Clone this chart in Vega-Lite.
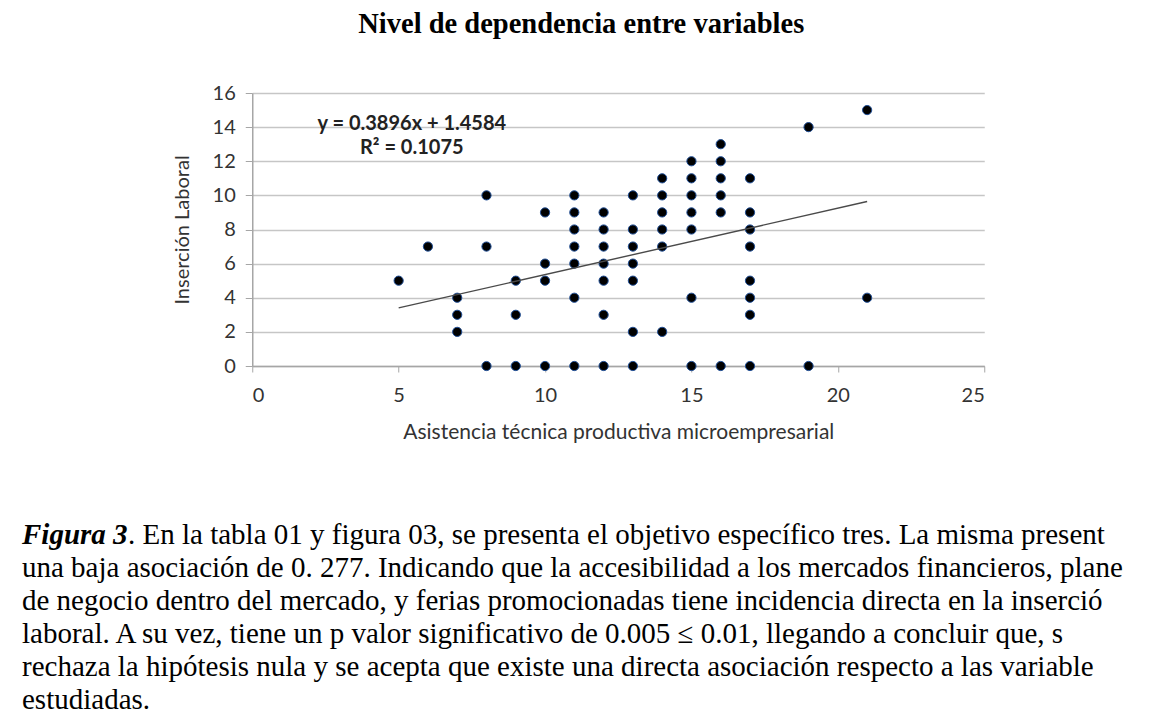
{
  "$schema": "https://vega.github.io/schema/vega-lite/v6.json",
  "background": "white",
  "padding": {"left": 22, "top": 9, "right": 0, "bottom": 0},
  "center": true,
  "spacing": 76,
  "config": {"view": {"stroke": null}},
  "vconcat": [
    {
      "width": 732,
      "height": 273,
      "title": {"text": "Nivel de dependencia entre variables", "font": "Liberation Serif", "fontSize": 28.5, "fontWeight": "bold", "color": "#000000", "anchor": "middle", "frame": "group", "offset": 45, "dx": -37},
      "encoding": {
        "x": {"field": "x", "type": "quantitative", "scale": {"domain": [0, 25], "nice": false},
          "axis": {"title": "Asistencia técnica productiva microempresarial", "values": [0, 5, 10, 15, 20, 25], "grid": false,
            "tickSize": 6, "tickColor": "#a6a6a6", "domainColor": "#a6a6a6", "domainWidth": 1.5, "labelPadding": 13, "titlePadding": 16,
            "labelFont": "Lato", "labelFontSize": 20, "labelColor": "#333333", "titleFont": "Lato", "titleFontSize": 21, "titleFontWeight": "normal", "titleColor": "#333333"}},
        "y": {"field": "y", "type": "quantitative", "scale": {"domain": [0, 16], "nice": false},
          "axis": {"title": "Inserción Laboral", "values": [0, 2, 4, 6, 8, 10, 12, 14, 16], "labelOverlap": false, "grid": true, "gridColor": "#c6c6c6", "gridWidth": 1.5,
            "tickSize": 7, "tickColor": "#a6a6a6", "domainColor": "#a6a6a6", "domainWidth": 1.5, "labelPadding": 10, "titlePadding": 20,
            "labelFont": "Lato", "labelFontSize": 20, "labelColor": "#333333", "titleFont": "Lato", "titleFontSize": 20, "titleFontWeight": "normal", "titleColor": "#333333"}}
      },
      "layer": [
        {
          "data": {"values": [
            {"x": 5, "y": 5}, {"x": 6, "y": 7},
            {"x": 7, "y": 4}, {"x": 7, "y": 3}, {"x": 7, "y": 2},
            {"x": 8, "y": 10}, {"x": 8, "y": 7}, {"x": 8, "y": 0},
            {"x": 9, "y": 5}, {"x": 9, "y": 3}, {"x": 9, "y": 0},
            {"x": 10, "y": 9}, {"x": 10, "y": 6}, {"x": 10, "y": 5}, {"x": 10, "y": 0},
            {"x": 11, "y": 10}, {"x": 11, "y": 9}, {"x": 11, "y": 8}, {"x": 11, "y": 7}, {"x": 11, "y": 6}, {"x": 11, "y": 4}, {"x": 11, "y": 0},
            {"x": 12, "y": 9}, {"x": 12, "y": 8}, {"x": 12, "y": 7}, {"x": 12, "y": 6}, {"x": 12, "y": 5}, {"x": 12, "y": 3}, {"x": 12, "y": 0},
            {"x": 13, "y": 10}, {"x": 13, "y": 8}, {"x": 13, "y": 7}, {"x": 13, "y": 6}, {"x": 13, "y": 5}, {"x": 13, "y": 2}, {"x": 13, "y": 0},
            {"x": 14, "y": 11}, {"x": 14, "y": 10}, {"x": 14, "y": 9}, {"x": 14, "y": 8}, {"x": 14, "y": 7}, {"x": 14, "y": 2},
            {"x": 15, "y": 12}, {"x": 15, "y": 11}, {"x": 15, "y": 10}, {"x": 15, "y": 9}, {"x": 15, "y": 8}, {"x": 15, "y": 4}, {"x": 15, "y": 0},
            {"x": 16, "y": 13}, {"x": 16, "y": 12}, {"x": 16, "y": 11}, {"x": 16, "y": 10}, {"x": 16, "y": 9}, {"x": 16, "y": 0},
            {"x": 17, "y": 11}, {"x": 17, "y": 9}, {"x": 17, "y": 8}, {"x": 17, "y": 7}, {"x": 17, "y": 5}, {"x": 17, "y": 4}, {"x": 17, "y": 3}, {"x": 17, "y": 0},
            {"x": 19, "y": 14}, {"x": 19, "y": 0},
            {"x": 21, "y": 15}, {"x": 21, "y": 4}
          ]},
          "mark": {"type": "point", "filled": true, "shape": "circle", "size": 85, "fill": "#000000", "stroke": "#1f4e96", "strokeWidth": 1, "opacity": 1}
        },
        {
          "data": {"values": [{"x": 5, "y": 3.4064}, {"x": 21, "y": 9.64}]},
          "mark": {"type": "line", "color": "#4a4a4a", "strokeWidth": 1.4}
        },
        {
          "data": {"values": [{"x": 5.45, "y": 14.2, "label": "y = 0.3896x + 1.4584"}, {"x": 5.45, "y": 12.8, "label": "R² = 0.1075"}]},
          "mark": {"type": "text", "font": "Lato", "fontSize": 20, "fontWeight": "bold", "color": "#222222", "align": "center", "baseline": "middle"},
          "encoding": {"text": {"field": "label"}}
        }
      ]
    },
    {
      "width": 1193,
      "height": {"step": 33},
      "data": {"values": [
        {"line": 1, "part": "label", "text": "Figura 3"},
        {"line": 1, "part": "rest", "text": ". En la tabla 01 y figura 03, se presenta el objetivo específico tres. La misma present"},
        {"line": 2, "part": "body", "text": "una baja asociación de 0. 277. Indicando que la accesibilidad a los mercados financieros, plane"},
        {"line": 3, "part": "body", "text": "de negocio dentro del mercado, y ferias promocionadas tiene incidencia directa en la inserció"},
        {"line": 4, "part": "body", "text": "laboral. A su vez, tiene un p valor significativo de 0.005 ≤ 0.01, llegando a concluir que, s"},
        {"line": 5, "part": "body", "text": "rechaza la hipótesis nula y se acepta que existe una directa asociación respecto a las variable"},
        {"line": 6, "part": "body", "text": "estudiadas."}
      ]},
      "encoding": {
        "y": {"field": "line", "type": "ordinal", "axis": null},
        "x": {"datum": 0, "type": "quantitative", "scale": {"domain": [0, 1]}, "axis": null},
        "text": {"field": "text"}
      },
      "layer": [
        {"transform": [{"filter": "datum.part == 'label'"}],
         "mark": {"type": "text", "font": "Liberation Serif", "fontSize": 29, "fontWeight": "bold", "fontStyle": "italic", "color": "#000000", "align": "left", "baseline": "middle"}},
        {"transform": [{"filter": "datum.part == 'rest'"}],
         "mark": {"type": "text", "font": "Liberation Serif", "fontSize": 29, "color": "#000000", "align": "left", "baseline": "middle", "dx": 106, "limit": 1087, "ellipsis": ""}},
        {"transform": [{"filter": "datum.part == 'body'"}],
         "mark": {"type": "text", "font": "Liberation Serif", "fontSize": 29, "color": "#000000", "align": "left", "baseline": "middle", "limit": 1193, "ellipsis": ""}}
      ]
    }
  ]
}
